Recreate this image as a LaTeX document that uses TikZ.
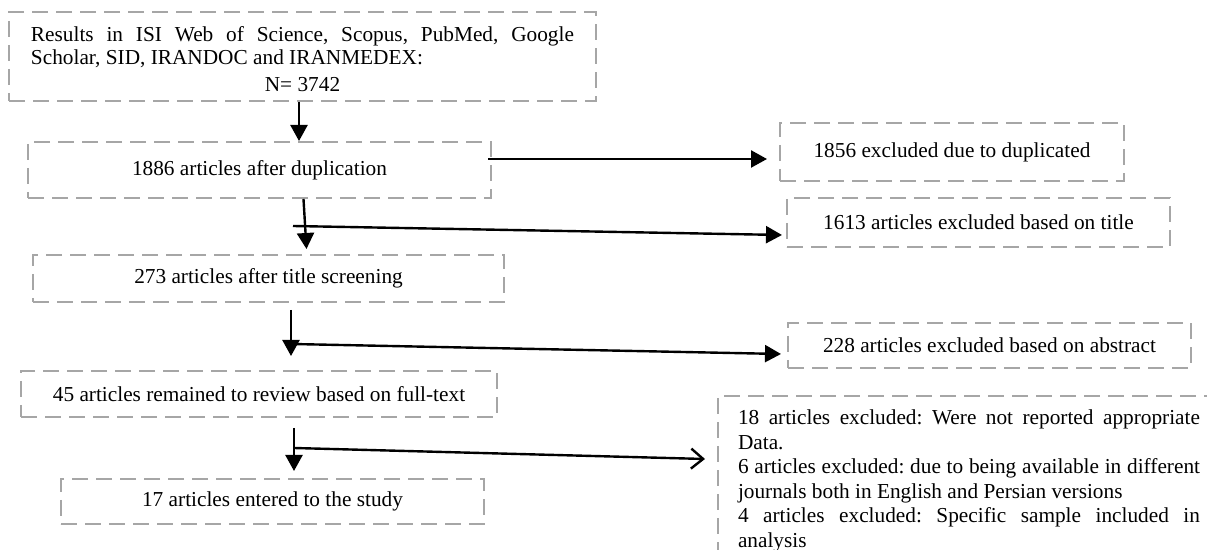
\documentclass[tikz,border=0pt]{standalone}
\usepackage{fontspec}
\setmainfont{Liberation Serif}
\usetikzlibrary{arrows.meta}
\hyphenpenalty=10000
\exhyphenpenalty=10000
\frenchspacing
\definecolor{boxgray}{RGB}{166,166,166}
\tikzset{
	box/.style={draw=boxgray, line width=1pt, dash pattern=on 8pt off 4pt, inner sep=0pt,
		font=\fontsize{10.65}{12.25}\selectfont},
	arr/.style={line width=1.2pt, -{Triangle[length=8pt,width=8.5pt]}},
	openarr/.style={line width=1.2pt, -{Straight Barb[length=6pt,width=10pt]}}
}
\begin{document}
\begin{tikzpicture}[x=0.5pt, y=-0.5pt]

	\useasboundingbox (0,0) rectangle (1207,550);
	\clip (0,0) rectangle (1207,550);

	\node[box, minimum width=293.5pt, minimum height=44.5pt, text width=271.5pt, align=justify] (search) at (302.5,56.5)
		{\fontsize{10.65}{11.5}\selectfont\spaceskip=0.25em plus 0.4em
		\rule{0pt}{10.5pt}Results in ISI Web of Science, Scopus, PubMed, Google Scholar, SID, IRANDOC and IRANMEDEX:\par\vspace{2pt}\centering N= 3742\par};
	\node[box, minimum width=231.5pt, minimum height=28pt] (dup) at (259.5,170) {1886 articles after duplication};
	\node[box, minimum width=235.5pt, minimum height=23.5pt] (title) at (268.5,278.5) {273 articles after title screening};
	\node[box, minimum width=238pt, minimum height=23pt] (full) at (259,394) {45 articles remained to review based on full-text};
	\node[box, minimum width=211.5pt, minimum height=22.5pt] (incl) at (272.5,501.5) {17 articles entered to the study};

	\node[box, minimum width=172pt, minimum height=29pt] (exdup) at (952,152) {1856 excluded due to duplicated};
	\node[box, minimum width=191.5pt, minimum height=24.5pt] (extitle) at (978.5,222.5) {1613 articles excluded based on title};
	\node[box, minimum width=201.5pt, minimum height=22.5pt] (exabs) at (989.5,345.5) {228 articles excluded based on abstract};
	\node[box, anchor=north west, inner xsep=10pt, inner ysep=7pt, text width=231pt, align=justify] (exfull) at (717,395)
		{18 articles excluded: Were not reported appropriate Data.\par
		6 articles excluded: due to being available in different journals both in English and Persian versions\par
		4 articles excluded: Specific sample included in analysis\par};

	\draw[arr] ([xshift=-1.75pt]search.south) -- ([xshift=-1.75pt]search.south |- dup.north);
	\draw[arr] ([xshift=22pt]dup.south) -- ([shift={(19pt,2.5pt)}]title.north);
	\draw[arr] ([shift={(11.25pt,-3.5pt)}]title.south) -- ([shift={(16pt,7pt)}]full.north);
	\draw[arr] ([shift={(17.5pt,-5pt)}]full.south) -- ([shift={(10.75pt,3.5pt)}]incl.north);

	\coordinate (c2) at (293,226);
	\coordinate (c3) at (292,344);
	\coordinate (c4) at (294,448);

	\draw[arr] ([shift={(-2pt,5.5pt)}]dup.east) -- ([shift={(-6pt,-3.5pt)}]exdup.west);
	\draw[arr] (c2) -- ([shift={(-2pt,-6.25pt)}]extitle.west);
	\draw[arr] (c3) -- ([shift={(-3pt,-4.25pt)}]exabs.west);
	\draw[openarr] (c4) -- ([shift={(-6pt,-32pt)}]exfull.north west);

\end{tikzpicture}
\end{document}
